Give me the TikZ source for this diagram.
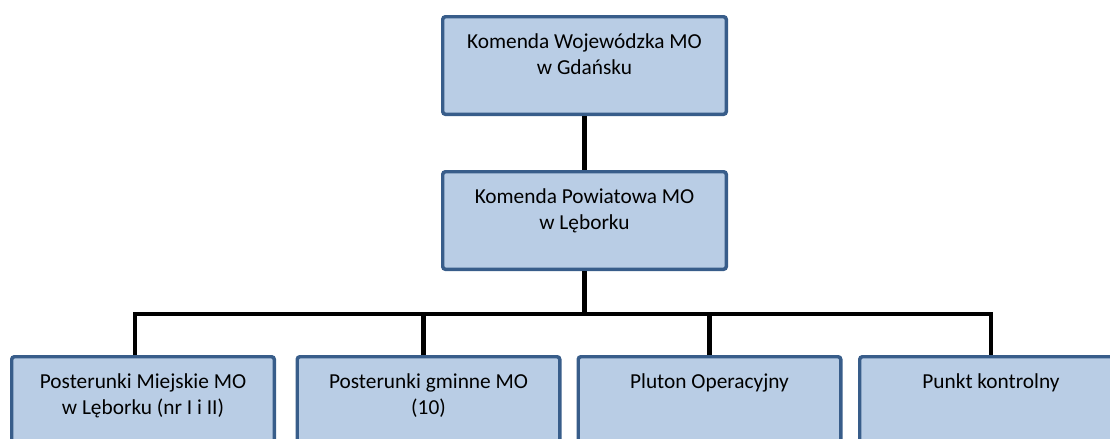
\documentclass[tikz,border=0pt]{standalone}
\usepackage{fontspec}
\setmainfont{Carlito}

\definecolor{boxfill}{RGB}{185,205,229}
\definecolor{boxline}{RGB}{56,93,138}

\newcommand{\orgtext}[2]{\parbox[c][73.15pt][t]{#1}{\centering\rule{0pt}{23.9pt}#2}}

\tikzset{every picture/.style={line width=0.75pt}}
\tikzset{
  orgbox/.style={draw=boxline, fill=boxfill, line width=2.6pt, rounded corners=2pt, inner sep=0pt, font=\fontsize{16}{19.5}\selectfont},
  orglink/.style={draw=black, line width=3.6pt},
}

\begin{document}
\begin{tikzpicture}[x=0.75pt,y=0.75pt,yscale=-1,xscale=1]
%set diagram size 1110 x 439
\useasboundingbox (0,0) rectangle (1110,439);
\clip (0,0) rectangle (1110,439);

%Rectangle: Komenda Wojewodzka
\node (kwmo) at (584.5,65.5) [orgbox] {\orgtext{212.65pt}{Komenda Wojewódzka MO\\w Gdańsku}};
%Rectangle: Komenda Powiatowa
\node (kpmo) at (584.5,220.5) [orgbox] {\orgtext{212.65pt}{Komenda Powiatowa MO\\w Lęborku}};

%Rectangles: lower level
\node (pmmo) at (143,405.5) [orgbox] {\orgtext{196.9pt}{Posterunki Miejskie MO\\w Lęborku (nr I i II)}};
\node (pgmo) at (428.5,405.5) [orgbox] {\orgtext{196.9pt}{Posterunki gminne MO\\(10)}};
\node (plop) at (709.5,405.5) [orgbox] {\orgtext{196.9pt}{Pluton Operacyjny}};
\node (pkon) at (991,405.5) [orgbox] {\orgtext{196.9pt}{Punkt kontrolny}};

%Rail of the lower level
\coordinate (rail) at (584.5,314);

%Straight Lines
\draw [orglink] (kwmo.south) -- (kpmo.north) ;
%Straight Lines
\draw [orglink] (kpmo.south) -- (rail) ;
%Straight Lines
\draw [orglink] ([xshift=-6pt]pmmo.north) |- (rail) -| (pkon.north) ;
%Straight Lines
\draw [orglink] ([xshift=-4pt]pgmo.north) -- ([xshift=-4pt]pgmo.north |- rail) ;
%Straight Lines
\draw [orglink] (plop.north) -- (plop.north |- rail) ;

\end{tikzpicture}
\end{document}
